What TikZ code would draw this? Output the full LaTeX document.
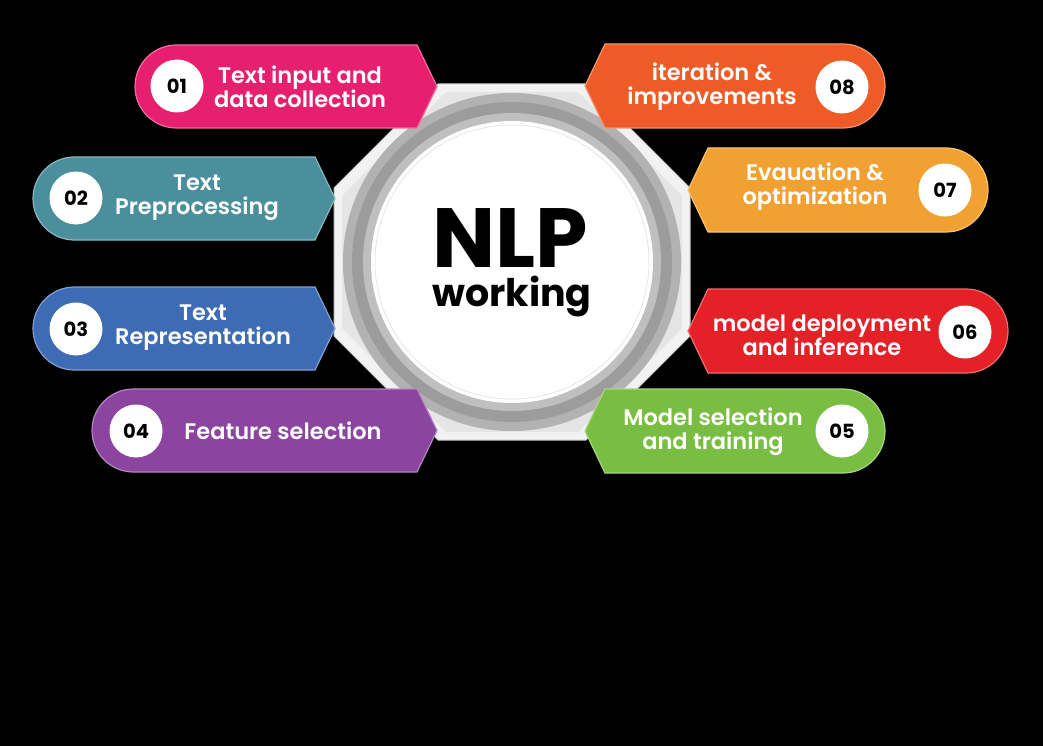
\documentclass[tikz,border=0pt]{standalone}
\usepackage{fontspec}
\setmainfont{Poppins}
\newfontfamily\popsb{Poppins SemiBold}
\newfontfamily\popb{Poppins Bold}
\definecolor{cpink}{HTML}{E6206F}
\definecolor{cteal}{HTML}{4B8F9C}
\definecolor{cblue}{HTML}{3E6CB4}
\definecolor{cpurple}{HTML}{8B45A0}
\definecolor{corange}{HTML}{EE5B27}
\definecolor{camber}{HTML}{F1A131}
\definecolor{cred}{HTML}{E42126}
\definecolor{cgreen}{HTML}{79BE43}
\tikzset{
  banner/.style={fill=#1, draw=white!35!#1, line width=1.2pt},
  numcirc/.style={circle, fill=white, minimum size=53pt, inner sep=0pt, font=\popb\fontsize{19.5}{19.5}\selectfont, text=black},
  btext/.style={align=center, text=white, font=\popsb\fontsize{22.5}{24}\selectfont, inner sep=0pt},
}
\begin{document}
\begin{tikzpicture}[x=1pt,y=-1pt]
\fill[black] (0,0) rectangle (1043,746);
\useasboundingbox (0,0) rectangle (1043,746);
% octagon frame
\path[fill=white!90!gray, draw=gray!45, line width=1pt]
  (438,84) -- (586,84) -- (690,188) -- (690,336) -- (586,440) -- (438,440) -- (334,336) -- (334,188) -- cycle;
\path[fill=white!80!gray]
  (446,92) -- (578,92) -- (682,196) -- (682,328) -- (578,432) -- (446,432) -- (342,328) -- (342,196) -- cycle;
% rings
\fill[gray!60] (512,262) circle[radius=169];
\fill[gray!78] (512,262) circle[radius=160];
\fill[gray!50] (512,262) circle[radius=149];
\fill[white] (512,262) circle[radius=141];
\draw[gray!25, line width=0.6pt] (512,262) circle[radius=137];
\node[anchor=base, inner sep=0pt, font=\popb\fontsize{84}{84}\selectfont] (nlp) at (510,267) {NLP};
\node[anchor=base, inner sep=0pt, font=\popb\fontsize{38}{38}\selectfont] (work) at (512,306) {working};
% left banners
\path[banner=cpink] (176.5,45) -- (417,45) -- (437,86.5) -- (417,128) -- (176.5,128) arc[start angle=90,end angle=270,radius=41.5] -- cycle;
\path[banner=cteal] (74.5,157) -- (315,157) -- (335,198.5) -- (315,240) -- (74.5,240) arc[start angle=90,end angle=270,radius=41.5] -- cycle;
\path[banner=cblue] (74.5,287) -- (315,287) -- (335,328.5) -- (315,370) -- (74.5,370) arc[start angle=90,end angle=270,radius=41.5] -- cycle;
\path[banner=cpurple] (133.5,389) -- (417,389) -- (437,430.5) -- (417,472) -- (133.5,472) arc[start angle=90,end angle=270,radius=41.5] -- cycle;
% right banners
\path[banner=corange] (605,44) -- (843,44) arc[start angle=270,end angle=450,radius=42] -- (605,128) -- (585,86) -- cycle;
\path[banner=camber] (708,148) -- (946,148) arc[start angle=270,end angle=450,radius=42] -- (708,232) -- (688,190) -- cycle;
\path[banner=cred] (708,289) -- (966,289) arc[start angle=270,end angle=450,radius=42] -- (708,373) -- (688,331) -- cycle;
\path[banner=cgreen] (605,389) -- (843,389) arc[start angle=270,end angle=450,radius=42] -- (605,473) -- (585,431) -- cycle;
% numbers
\node[numcirc] (n1) at (177,86) {01};
\node[numcirc] (n2) at (76,198) {02};
\node[numcirc] (n3) at (76,329) {03};
\node[numcirc] (n4) at (136,431) {04};
\node[numcirc] (n5) at (842,431) {05};
\node[numcirc] (n6) at (965,332) {06};
\node[numcirc] (n7) at (945,190) {07};
\node[numcirc] (n8) at (842,87) {08};
% texts
\node[btext] (t1) at (300,87) {Text input and\\data collection};
\node[btext] (t2) at (197,198) {Text\\Preprocessing};
\node[btext] (t3) at (203,328) {Text\\Representation};
\node[btext] (t4) at (283,431) {Feature selection};
\node[btext] (t5) at (713,432) {Model selection\\and training};
\node[btext] (t6) at (822,335) {model deployment\\and inference};
\node[btext] (t7) at (815,187) {Evauation \&\\optimization};
\node[btext] (t8) at (712,87) {iteration \&\\improvements};
\end{tikzpicture}
\end{document}
